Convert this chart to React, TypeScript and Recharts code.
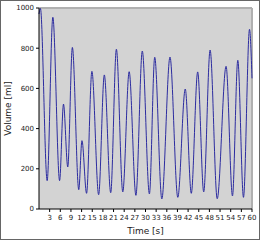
import { LineChart, Line, XAxis, YAxis, CartesianGrid, ReferenceLine } from "recharts";

const times = [0, 0.4, 2.3, 3.9, 5.8, 6.9, 8.1, 9.4, 11.2, 12.1, 13.4, 14.9, 16.8, 18.4, 20.2, 21.8, 23.6, 25.4, 27.3, 29.1, 31.1, 32.6, 34.6, 36.9, 39.1, 41.2, 42.9, 44.7, 46.4, 48.2, 50.2, 52.7, 54.5, 56.0, 57.6, 59.3, 60];
const volumes = [970, 998, 141, 954, 141, 522, 209, 804, 96, 340, 78, 685, 71, 667, 81, 795, 85, 683, 68, 786, 75, 755, 50, 756, 58, 597, 78, 682, 85, 791, 51, 710, 65, 740, 58, 894, 650];
const xTicks = [3, 6, 9, 12, 15, 18, 21, 24, 27, 30, 33, 36, 39, 42, 45, 48, 51, 54, 57, 60];
const yTicks = [0, 200, 400, 600, 800, 1000];

const data = times.map((t, i) => ({ t, v: volumes[i] }));

const tickStyle = { fontSize: 7, fill: "#222", fontFamily: "DejaVu Sans" };
const titleStyle = { fontSize: 9, fill: "#222", fontFamily: "DejaVu Sans" };

export default function App() {
  return (
    <div style={{ position: "fixed", left: 0, top: 0, width: 260, height: 240, background: "#fff" }}>
      <LineChart width={260} height={240} data={data} margin={{ top: 8, right: 8, left: 0, bottom: 0 }}>
        <CartesianGrid fill="#d3d3d3" horizontal={false} vertical={false} />
        <ReferenceLine y={1000} stroke="#b0b0b0" strokeWidth={2} />
        <ReferenceLine x={60} stroke="#b0b0b0" strokeWidth={2} />
        <XAxis
          dataKey="t"
          type="number"
          domain={[0, 60]}
          ticks={xTicks}
          interval={0}
          height={31}
          tickSize={3}
          tickMargin={3}
          tick={tickStyle}
          stroke="#000"
          label={{ value: "Time [s]", position: "insideBottom", offset: 6, style: titleStyle }}
        />
        <YAxis
          type="number"
          domain={[0, 1000]}
          ticks={yTicks}
          interval={0}
          width={39}
          tickSize={3}
          tickMargin={2}
          tick={tickStyle}
          stroke="#000"
          label={{ value: "Volume [ml]", angle: -90, position: "insideLeft", offset: 8, style: { ...titleStyle, textAnchor: "middle" } }}
        />
        <Line dataKey="v" type="monotone" stroke="#2c2ca0" strokeWidth={1} dot={false} isAnimationActive={false} />
      </LineChart>
      <div style={{ position: "absolute", inset: 0, border: "1px solid #666", pointerEvents: "none" }} />
    </div>
  );
}
